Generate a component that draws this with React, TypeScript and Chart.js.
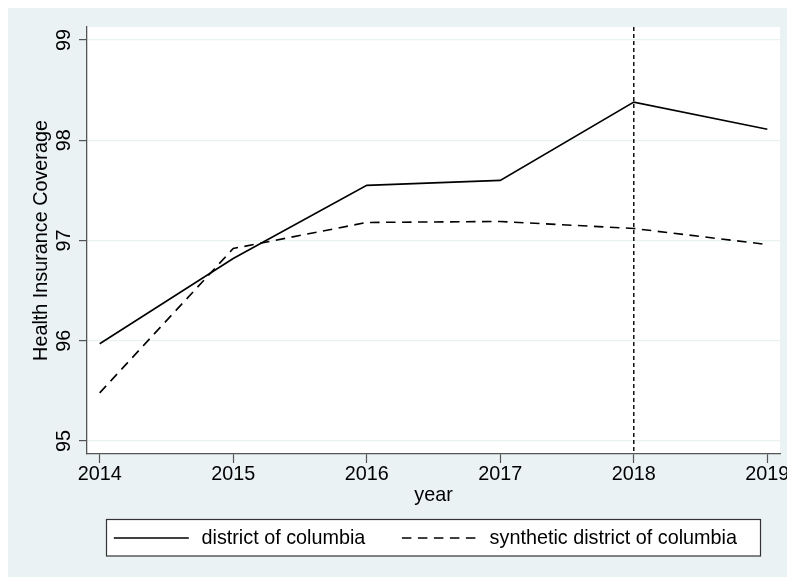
import React, { useEffect, useRef } from "react";
import { Chart, registerables } from "chart.js";

Chart.register(...registerables);

const years = [2014, 2015, 2016, 2017, 2018, 2019];
const dcCoverage = [95.97, 96.82, 97.55, 97.6, 98.38, 98.11];
const syntheticCoverage = [95.48, 96.92, 97.18, 97.19, 97.12, 96.96];
const seriesLabels = ["district of columbia", "synthetic district of columbia"];
const yTickValues = [95, 96, 97, 98, 99];
const xTickValues = [2014, 2015, 2016, 2017, 2018, 2019];
const treatmentYear = 2018;
const xTitle = "year";
const yTitle = "Health Insurance Coverage";

const FONT = "'Liberation Sans', Arial, Helvetica, sans-serif";
const FS = 19.8;
const BG = "#eaf2f3";
const AXIS = "#555555";

const backgroundPlugin = {
  id: "stataBackground",
  beforeDraw(chart: any) {
    const { ctx, chartArea, width, height } = chart;
    ctx.save();
    ctx.fillStyle = BG;
    ctx.fillRect(0, 0, width, height);
    ctx.fillStyle = "#ffffff";
    ctx.fillRect(
      chartArea.left,
      chartArea.top,
      chartArea.right - chartArea.left,
      chartArea.bottom - chartArea.top
    );
    ctx.restore();
  },
};

const vlinePlugin = {
  id: "treatmentLine",
  afterDatasetsDraw(chart: any) {
    const { ctx, chartArea, scales } = chart;
    const x = scales.x.getPixelForValue(treatmentYear);
    ctx.save();
    ctx.strokeStyle = "#000";
    ctx.lineWidth = 1.4;
    ctx.setLineDash([4, 3]);
    ctx.beginPath();
    ctx.moveTo(x, chartArea.top);
    ctx.lineTo(x, chartArea.bottom);
    ctx.stroke();
    ctx.restore();
  },
};

const legendPlugin = {
  id: "stataLegend",
  afterDraw(chart: any) {
    const { ctx, chartArea } = chart;
    const cx = (chartArea.left + chartArea.right) / 2;
    const boxW = 654;
    const boxH = 36.5;
    const boxLeft = cx - boxW / 2;
    const boxTop = chartArea.bottom + 65.5;
    ctx.save();
    ctx.fillStyle = "#ffffff";
    ctx.fillRect(boxLeft, boxTop, boxW, boxH);
    ctx.strokeStyle = "#333";
    ctx.lineWidth = 1.2;
    ctx.strokeRect(boxLeft, boxTop, boxW, boxH);
    ctx.font = `${FS}px ${FONT}`;
    ctx.textBaseline = "middle";
    ctx.textAlign = "left";
    ctx.fillStyle = "#000";
    const ly = boxTop + 18.5;
    let x = boxLeft + 7.3;
    chart.data.datasets.forEach((ds: any) => {
      ctx.strokeStyle = "#000";
      ctx.lineWidth = 1.6;
      ctx.setLineDash(ds.borderDash || []);
      ctx.beginPath();
      ctx.moveTo(x, ly);
      ctx.lineTo(x + 75, ly);
      ctx.stroke();
      ctx.setLineDash([]);
      const tx = x + 75 + 12.7;
      ctx.fillText(ds.label, tx, ly + 1);
      x = tx + ctx.measureText(ds.label).width + 36.6;
    });
    ctx.restore();
  },
};

export default function App() {
  const ref = useRef<HTMLCanvasElement | null>(null);

  useEffect(() => {
    if (!ref.current) return;
    const chart = new Chart(ref.current, {
      type: "line",
      data: {
        datasets: [
          {
            label: seriesLabels[0],
            data: years.map((x, i) => ({ x, y: dcCoverage[i] })),
            borderColor: "#000",
            borderWidth: 1.6,
            pointRadius: 0,
            tension: 0,
            fill: false,
          },
          {
            label: seriesLabels[1],
            data: years.map((x, i) => ({ x, y: syntheticCoverage[i] })),
            borderColor: "#000",
            borderWidth: 1.6,
            borderDash: [9.5, 6.5],
            pointRadius: 0,
            tension: 0,
            fill: false,
          },
        ],
      },
      options: {
        animation: false,
        responsive: true,
        maintainAspectRatio: false,
        devicePixelRatio: 1,
        layout: { padding: { left: 0, top: 19, right: 7, bottom: 0 } },
        plugins: {
          legend: { display: false },
          tooltip: { enabled: false },
        },
        scales: {
          x: {
            type: "linear",
            min: 2013.905,
            max: 2019.095,
            afterBuildTicks: (s: any) => {
              s.ticks = xTickValues.map((v) => ({ value: v }));
            },
            afterFit: (s: any) => {
              s.height = 123;
              s.paddingLeft = 0;
              s.paddingRight = 0;
            },
            ticks: {
              color: "#000",
              font: { family: FONT, size: FS },
              padding: 0,
              maxRotation: 0,
              minRotation: 0,
              callback: (v: any) => String(v),
            },
            grid: {
              drawOnChartArea: false,
              drawTicks: true,
              tickLength: 9,
              tickColor: AXIS,
              tickWidth: 1.2,
            },
            border: { display: true, color: AXIS, width: 1.3 },
            title: {
              display: true,
              text: xTitle,
              color: "#000",
              font: { family: FONT, size: FS },
              padding: { top: 0, bottom: 69.7 },
            },
          },
          y: {
            type: "linear",
            min: 94.87,
            max: 99.13,
            afterBuildTicks: (s: any) => {
              s.ticks = yTickValues.map((v) => ({ value: v }));
            },
            afterFit: (s: any) => {
              s.width = 79;
              s.paddingTop = 0;
              s.paddingBottom = 0;
            },
            ticks: {
              color: "#000",
              font: { family: FONT, size: FS },
              padding: 3.5,
              minRotation: 90,
              maxRotation: 90,
              crossAlign: "center",
              callback: (v: any) => String(v),
            },
            grid: {
              drawOnChartArea: true,
              color: BG,
              lineWidth: 1.2,
              drawTicks: true,
              tickLength: 8,
              tickColor: AXIS,
              tickWidth: 1.2,
            },
            border: { display: true, color: AXIS, width: 1.3 },
            title: {
              display: true,
              text: yTitle,
              color: "#000",
              font: { family: FONT, size: FS },
              padding: { top: 22, bottom: 0 },
            },
          },
        },
      } as any,
      plugins: [backgroundPlugin, vlinePlugin, legendPlugin],
    });
    return () => chart.destroy();
  }, []);

  return (
    <div style={{ position: "fixed", left: 8, top: 8, width: 779, height: 569 }}>
      <canvas ref={ref} />
    </div>
  );
}
